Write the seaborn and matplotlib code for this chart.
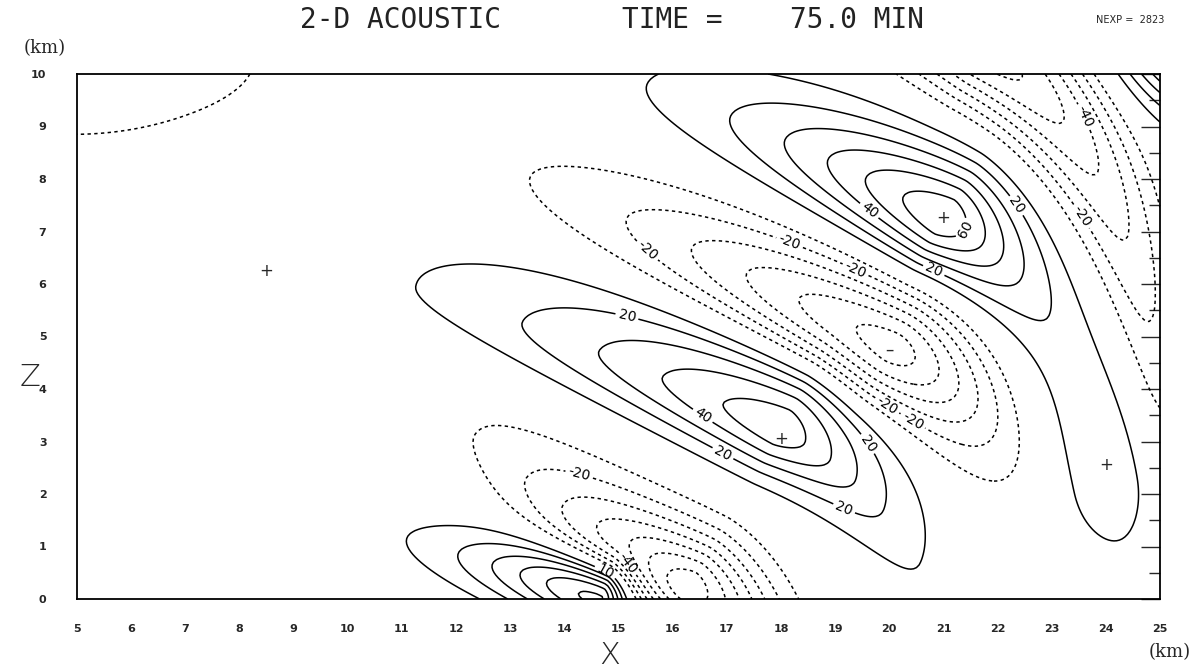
import numpy as np
import matplotlib
matplotlib.use("Agg")
import matplotlib.pyplot as plt
import seaborn as sns

# ---- data -----------------------------------------------------------------
# wave-field lobes: centre (km), peak value, tilt (deg), back/front half-length,
# half-width on upper/lower side, along-axis profile exponent, back/front bending
lobe_x     = [18.0, 20.0, 21.0, 21.8, 25.6, 24.1, 16.25, 14.7, 5.0]
lobe_z     = [3.25, 4.76, 7.25, 10.4, 10.6, 2.2, 0.2, 0.05, 10.5]
lobe_amp   = [58, -68, 68, -65, 85, 17, -78, 74, -16]
lobe_tilt  = [-26, -28, -30, -32, -45, -75, -30, -17, 0]
lobe_back  = [5.0, 5.0, 3.8, 4.0, 1.8, 3.0, 2.9, 2.3, 4.5]
lobe_front = [2.3, 2.3, 2.0, 5.0, 1.8, 1.6, 2.2, 0.6, 4.5]
lobe_up    = [1.5, 1.1, 1.15, 1.0, 1.1, 1.3, 1.1, 0.68, 2.5]
lobe_down  = [0.9, 1.15, 1.0, 1.0, 1.1, 1.3, 0.8, 0.68, 2.5]
lobe_pow   = [1.4, 1.6, 1.4, 1.4, 2.0, 2.0, 1.4, 1.4, 2.0]
lobe_kb    = [0.01, 0.005, 0.014, 0.0, 0.0, 0.0, -0.025, 0.0, 0.0]
lobe_kf    = [0.1, 0.08, 0.09, 0.1, 0.0, 0.0, 0.1, 0.0, 0.0]

levels = [-90, -80, -70, -60, -50, -40, -30, -20, -10, 10, 20, 30, 40, 50, 60, 70, 80, 90]
label_levels = [-40, -20, 10, 20, 40, 60]

# extremum markers
ext_x   = [8.5, 18.0, 21.0, 20.0, 24.0]
ext_z   = [6.25, 3.05, 7.25, 4.75, 2.55]
ext_sym = ["+", "+", "+", "-", "+"]

# contour label positions
label_x = [15.18, 16.6, 16.91, 14.44, 15.67, 18.11, 19.64, 19.46, 20.81, 21.49,
           22.17, 23.47, 23.58, 19.83, 20.48, 19.5, 19.27, 14.8, 15.45]
label_z = [5.49, 3.56, 2.74, 3.03, 6.8, 6.65, 7.41, 6.46, 6.23, 6.99,
           7.37, 9.12, 7.31, 3.47, 3.47, 2.88, 1.98, 0.61, 0.9]

x_ticks = list(range(5, 26))
z_ticks = list(range(0, 11))

# ---- build field -------------------------------------------------------------
xg = np.linspace(5, 25, 401)
zg = np.linspace(0, 10, 201)
X, Z = np.meshgrid(xg, zg)
F = np.zeros_like(X)
for cx, cz, a, t, lb, lf, lwu, lwd, p, kb, kf in zip(
        lobe_x, lobe_z, lobe_amp, lobe_tilt, lobe_back, lobe_front,
        lobe_up, lobe_down, lobe_pow, lobe_kb, lobe_kf):
    c, s = np.cos(np.radians(t)), np.sin(np.radians(t))
    du = (X - cx) * c + (Z - cz) * s
    dv = -(X - cx) * s + (Z - cz) * c
    dv = dv + np.where(du < 0, kb, kf) * du ** 2
    lu = np.where(du < 0, lb, lf)
    lw = np.where(dv > 0, lwu, lwd)
    F += a * np.exp(-np.abs(du / lu) ** p - (dv / lw) ** 2)

# ---- draw --------------------------------------------------------------------
sns.set_style("white")
plt.rcParams["font.family"] = ["DejaVu Sans"]
fig = plt.figure(figsize=(11.93, 6.72), dpi=100)
ax = fig.add_axes([77 / 1193, 1 - 599 / 672, (1160 - 77) / 1193, (599 - 74) / 672])

plain = [lv for lv in levels if lv not in label_levels]
dash = (0, (2.2, 2.2))
ax.contour(X, Z, F, levels=plain, colors="black", linewidths=1.1,
           linestyles=[dash if lv < 0 else "solid" for lv in plain])
cs = ax.contour(X, Z, F, levels=label_levels, colors="black", linewidths=1.1,
                linestyles=[dash if lv < 0 else "solid" for lv in label_levels])
ax.clabel(cs, inline=True, fontsize=10, fmt=lambda v: f"{v:.0f}",
          manual=list(zip(label_x, label_z)), inline_spacing=3)

for x, z, sym in zip(ext_x, ext_z, ext_sym):
    ax.text(x, z, "+" if sym == "+" else "\u2013", ha="center", va="center",
            fontsize=12, family="DejaVu Sans")

ax.set_xlim(5, 25)
ax.set_ylim(0, 10)
ax.set_xticks(x_ticks)
ax.set_yticks(z_ticks)
ax.set_xticks(np.arange(5.5, 25, 1), minor=True)
ax.set_yticks(np.arange(0.5, 10, 1), minor=True)
ax.tick_params(which="major", direction="in", length=14, width=1, labelsize=8,
               pad=18, right=True)
ax.tick_params(which="minor", direction="in", length=8, width=1, right=True)
ax.tick_params(axis="y", which="major", pad=22)
for lab in ax.get_xticklabels() + ax.get_yticklabels():
    lab.set_fontweight("bold")
for sp in ax.spines.values():
    sp.set_linewidth(1.3)
    sp.set_color("black")

for txt, xp in [("2-D ACOUSTIC", 401), ("TIME =", 672), ("75.0 MIN", 857)]:
    fig.text(xp / 1193, 1 - 20 / 672, txt, ha="center", va="center",
             fontsize=20, family="DejaVu Sans Mono", color="#222222")
fig.text(1130 / 1193, 1 - 20 / 672, "NEXP =  2823", ha="center", va="center",
         fontsize=7, family="DejaVu Sans")
fig.text(45 / 1193, 1 - 48 / 672, "(km)", ha="center", va="center",
         fontsize=13, family="DejaVu Serif")
fig.text(1170 / 1193, 1 - 652 / 672, "(km)", ha="center", va="center",
         fontsize=13, family="DejaVu Serif")
fig.text(30 / 1193, 1 - 378 / 672, "Z", ha="center", va="center",
         fontsize=22, family="DejaVu Sans", fontweight="ultralight")
fig.text(610 / 1193, 1 - 655 / 672, "X", ha="center", va="center",
         fontsize=22, family="DejaVu Sans", fontweight="ultralight")

fig.savefig("out.png", dpi=100)
